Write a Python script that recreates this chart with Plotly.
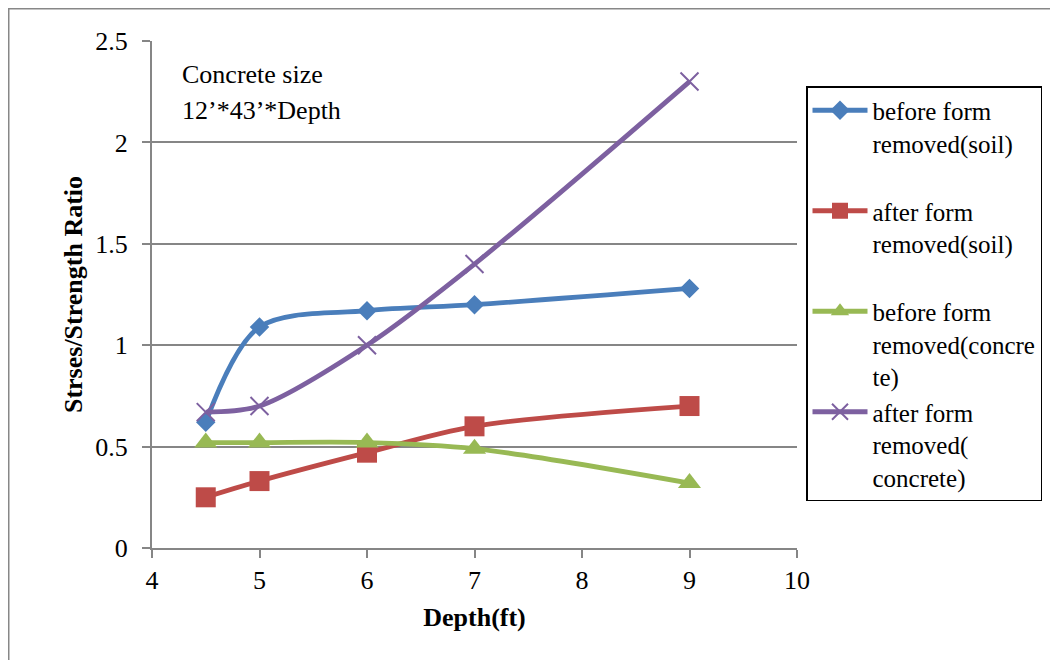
import plotly.graph_objects as go

depth = [4.5, 5, 6, 7, 9]
before_soil = [0.62, 1.09, 1.17, 1.20, 1.28]
after_soil = [0.25, 0.33, 0.47, 0.60, 0.70]
before_concrete = [0.52, 0.52, 0.52, 0.49, 0.32]
after_concrete = [0.67, 0.70, 1.00, 1.40, 2.30]

names = [
    "before form<br>removed(soil)<br> ",
    "after form<br>removed(soil)<br> ",
    "before form<br>removed(concre<br>te)",
    "after form<br>removed(<br>concrete)",
]
colors = ["#4A7EBB", "#BE4B48", "#98B954", "#7D60A0"]
symbols = ["diamond", "square", "triangle-up", "x-thin-open"]
sizes = [15, 20, 20, 18]
series = [before_soil, after_soil, before_concrete, after_concrete]

# page is offset by the 8px body margin
OFF = 8
W, H = 1050, 652
L, R, T, B = 144, 261, 33, 112
pw, ph = W - L - R, H - T - B

FONT = "Liberation Serif"
FS = 26
LFS = 25

fig = go.Figure()
for nm, c, s, sz, ys in zip(names, colors, symbols, sizes, series):
    fig.add_trace(go.Scatter(
        x=depth, y=ys, name=nm, mode="lines+markers",
        line=dict(color=c, width=4.8, shape="spline", smoothing=0.9),
        marker=dict(symbol=s, size=sz, color=c,
                    line=dict(color=c, width=2 if s.startswith("x") else 0)),
    ))

def px2x(p):
    return (p - OFF - L) / pw

def py2y(p):
    return (H - B - (p - OFF)) / ph

fig.update_layout(
    width=W, height=H,
    margin=dict(l=L, r=R, t=T, b=B, pad=0),
    paper_bgcolor="white", plot_bgcolor="white",
    font=dict(family=FONT, size=FS, color="black"),
    showlegend=True,
    legend=dict(
        x=px2x(806), y=py2y(86), xanchor="left", yanchor="top",
        bordercolor="black", borderwidth=1.5, bgcolor="white",
        font=dict(family=FONT, size=LFS, color="black"),
        itemwidth=55, valign="top", tracegroupgap=0,
    ),
    xaxis=dict(
        range=[4, 10], dtick=1, tick0=4, showgrid=False,
        showline=True, linecolor="#868686", linewidth=2,
        ticks="outside", ticklen=8, tickcolor="#868686", tickwidth=2,
        tickfont=dict(family=FONT, size=FS, color="black"),
        title=dict(text="<b>Depth(ft)</b>", font=dict(family=FONT, size=FS, color="black"), standoff=14),
        zeroline=False,
    ),
    yaxis=dict(
        range=[0, 2.5], dtick=0.5, tick0=0, showgrid=True,
        gridcolor="#868686", gridwidth=2,
        showline=True, linecolor="#868686", linewidth=2,
        ticks="outside", ticklen=8, tickcolor="#868686", tickwidth=2,
        ticklabelstandoff=9,
        tickfont=dict(family=FONT, size=FS, color="black"),
        title=dict(text="<b>Strses/Strength Ratio</b>", font=dict(family=FONT, size=FS, color="black"), standoff=5),
        zeroline=False,
    ),
    annotations=[
        dict(text="Concrete size", x=px2x(180), y=py2y(74), xref="paper", yref="paper",
             xanchor="left", yanchor="middle", showarrow=False,
             font=dict(family=FONT, size=FS, color="black")),
        dict(text="12’*43’*Depth", x=px2x(180), y=py2y(110), xref="paper", yref="paper",
             xanchor="left", yanchor="middle", showarrow=False,
             font=dict(family=FONT, size=FS, color="black")),
    ],
    shapes=[
        dict(type="rect", xref="paper", yref="paper",
             x0=px2x(8.75), x1=px2x(1070), y0=py2y(8.75), y1=py2y(680),
             line=dict(color="#878787", width=1.5), layer="below"),
    ],
)

fig.write_html("out.html")
